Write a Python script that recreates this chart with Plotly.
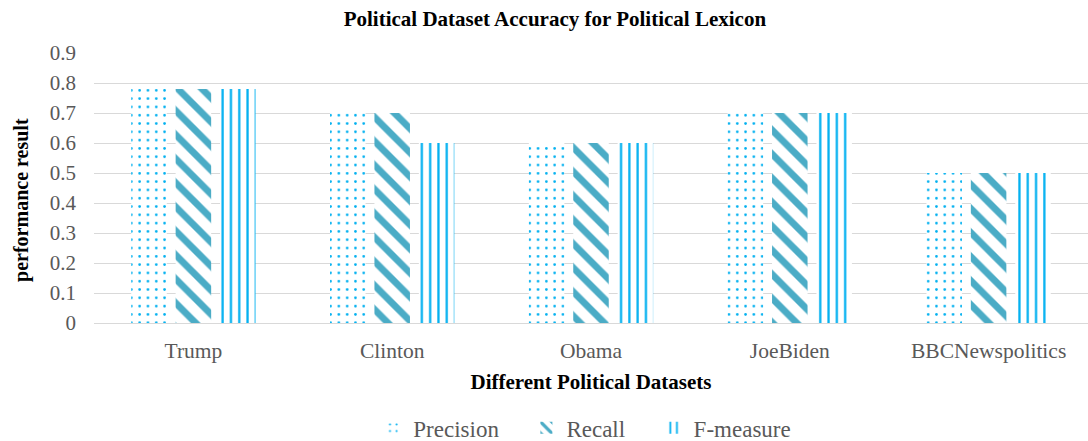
import plotly.graph_objects as go

datasets = ["Trump", "Clinton", "Obama", "JoeBiden", "BBCNewspolitics"]
precision = [0.78, 0.70, 0.60, 0.70, 0.50]
recall = [0.78, 0.70, 0.60, 0.70, 0.50]
f_measure = [0.78, 0.60, 0.60, 0.70, 0.50]
y_ticks = [0, 0.1, 0.2, 0.3, 0.4, 0.5, 0.6, 0.7, 0.8, 0.9]

serif = "Liberation Serif"
grey = "#595959"

# (name, values, fill pattern, legend id, legend x position)
series = [
    ("Precision", precision, dict(shape=".", fgcolor="#00B0F0", bgcolor="white",
                                  size=8.3, solidity=0.08, fgopacity=1), "legend", 0.281),
    ("Recall", recall, dict(shape="\\", fgcolor="#4BACC6", bgcolor="white",
                            size=17, solidity=0.4, fgopacity=1), "legend2", 0.435),
    ("F-measure", f_measure, dict(shape="|", fgcolor="#00B0F0", bgcolor="white",
                                  size=8.3, solidity=0.27, fgopacity=1), "legend3", 0.563),
]

fig = go.Figure()
legend_layouts = {}
for name, vals, pat, leg, lx in series:
    fig.add_trace(go.Bar(
        x=datasets, y=vals, name=name, legend=leg, showlegend=True,
        marker=dict(color="white", line=dict(width=0), pattern=pat),
    ))
    legend_layouts[leg] = dict(
        orientation="h", x=lx, xanchor="left",
        yref="container", y=0.03, yanchor="middle",
        font=dict(family=serif, size=23, color=grey),
        itemwidth=30, bgcolor="rgba(0,0,0,0)",
    )

fig.update_layout(
    width=1088, height=441,
    margin=dict(l=94, r=0, t=53, b=118, autoexpand=False),
    paper_bgcolor="white", plot_bgcolor="white",
    showlegend=True,
    barmode="group", bargap=0.33, bargroupgap=0.2,
    title=dict(text="<b>Political Dataset Accuracy for Political Lexicon</b>",
               x=0.51, xanchor="center", y=0.958, yanchor="middle",
               font=dict(family=serif, size=21, color="black")),
    font=dict(family=serif, color=grey),
    xaxis=dict(
        title=dict(text="<b>Different Political Datasets</b>",
                   font=dict(family=serif, size=21, color="black"), standoff=12),
        tickfont=dict(family=serif, size=21.5, color=grey),
        ticklabelstandoff=8,
        showline=True, linecolor="#D9D9D9", linewidth=1,
        showgrid=False, ticks="", automargin=False,
    ),
    yaxis=dict(
        range=[0, 0.9], tickvals=y_ticks, ticktext=[f"{v:g}" for v in y_ticks],
        tickfont=dict(family=serif, size=21, color=grey),
        ticklabelstandoff=17,
        showgrid=True, gridcolor="#D9D9D9", gridwidth=1,
        zeroline=False, ticks="", ticklen=0,
        showline=False, automargin=False,
    ),
    annotations=[dict(
        text="<b>performance result</b>", textangle=-90,
        xref="paper", yref="paper", x=-0.0724, y=0.456,
        xanchor="center", yanchor="middle", showarrow=False,
        font=dict(family=serif, size=20, color="black"),
    )],
    **legend_layouts,
)

fig.write_html("out.html")
